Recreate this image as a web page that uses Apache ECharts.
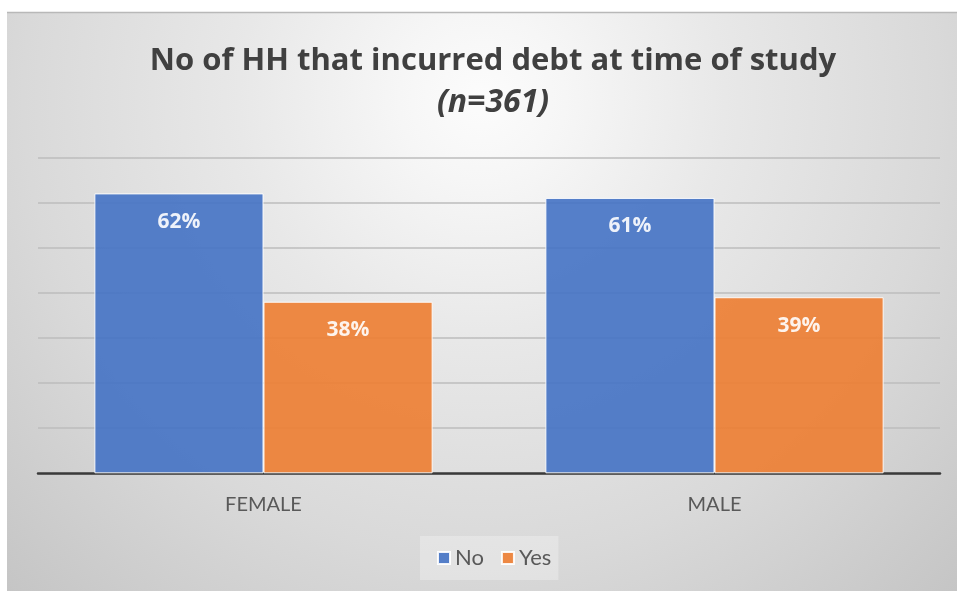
<!DOCTYPE html>
<html>
<head>
<meta charset="utf-8">
<style>
  html, body { margin: 0; padding: 0; background: #ffffff; }
  #chart { width: 957px; height: 591px; }
</style>
<script src="https://cdn.jsdelivr.net/npm/echarts@6/dist/echarts.min.js"></script>
</head>
<body>
<div id="chart"></div>
<script>
// Households that incurred debt, split by gender of household head
const categories = ['FEMALE', 'MALE'];
const seriesNames = ['No', 'Yes'];
const noValues = [62, 61];
const yesValues = [38, 39];
const titleMain = 'No of HH that incurred debt at time of study';
const titleSub = '(n=361)';

const FONT = 'Lato, "Open Sans", sans-serif';
const TITLE_FONT = '"Open Sans", Lato, sans-serif';
const chart = echarts.init(document.getElementById('chart'), null, { renderer: 'canvas' });

chart.setOption({
  animation: false,
  backgroundColor: '#ffffff',
  graphic: [
    {
      type: 'rect',
      z: -10,
      silent: true,
      shape: { x: 7, y: 12, width: 950, height: 579 },
      style: {
        fill: new echarts.graphic.RadialGradient(0.5, 0.15, 1.2, [
          { offset: 0, color: '#fcfcfc' },
          { offset: 0.12, color: '#f6f6f6' },
          { offset: 0.35, color: '#e8e8e8' },
          { offset: 0.66, color: '#d9d9d9' },
          { offset: 1, color: '#c4c4c4' }
        ])
      }
    },
    {
      type: 'line',
      z: -9,
      silent: true,
      shape: { x1: 7, y1: 12.5, x2: 957, y2: 12.5 },
      style: { stroke: '#b8b8b8', lineWidth: 1.5 }
    }
  ],
  title: [
    {
      text: titleMain,
      left: 488,
      top: 41,
      textAlign: 'center',
      textStyle: { fontFamily: TITLE_FONT, fontSize: 31, fontWeight: 'bold', color: '#404040' }
    },
    {
      text: titleSub,
      left: 488,
      top: 82,
      textAlign: 'center',
      textStyle: { fontFamily: TITLE_FONT, fontSize: 32, fontWeight: 'bold', fontStyle: 'italic', color: '#404040' }
    }
  ],
  legend: {
    data: seriesNames,
    left: 420,
    top: 536,
    orient: 'horizontal',
    icon: 'rect',
    itemWidth: 12,
    itemHeight: 12,
    itemGap: 17,
    padding: [11, 7, 11, 17],
    backgroundColor: 'rgba(255,255,255,0.28)',
    textStyle: { fontFamily: FONT, fontSize: 22, color: '#595959' }
  },
  grid: { left: 38, right: 17, top: 157.3, bottom: 117.7, containLabel: false },
  xAxis: {
    type: 'category',
    data: categories,
    axisTick: { show: false },
    axisLine: { lineStyle: { color: '#3a3a3a', width: 2.5 } },
    axisLabel: { fontFamily: FONT, fontSize: 20, color: '#595959', margin: 21 }
  },
  yAxis: {
    type: 'value',
    min: 0,
    max: 70,
    interval: 10,
    axisLabel: { show: false },
    axisLine: { show: false },
    axisTick: { show: false },
    splitLine: { lineStyle: { color: '#bdbdbd', width: 1.5 } }
  },
  series: [
    {
      name: seriesNames[0],
      type: 'bar',
      data: noValues,
      barGap: '0%',
      barCategoryGap: '25%',
      itemStyle: { color: '#4472C4', opacity: 0.9, borderColor: '#ffffff', borderWidth: 1 },
      label: {
        show: true, position: 'insideTop', distance: 18, formatter: '{c}%',
        fontFamily: TITLE_FONT, fontSize: 21, fontWeight: 'bold', color: '#ffffff'
      }
    },
    {
      name: seriesNames[1],
      type: 'bar',
      data: yesValues,
      barGap: '0%',
      barCategoryGap: '25%',
      itemStyle: { color: '#ED7D31', opacity: 0.9, borderColor: '#ffffff', borderWidth: 1 },
      label: {
        show: true, position: 'insideTop', distance: 18, formatter: '{c}%',
        fontFamily: TITLE_FONT, fontSize: 21, fontWeight: 'bold', color: '#ffffff'
      }
    }
  ]
});
</script>
</body>
</html>
